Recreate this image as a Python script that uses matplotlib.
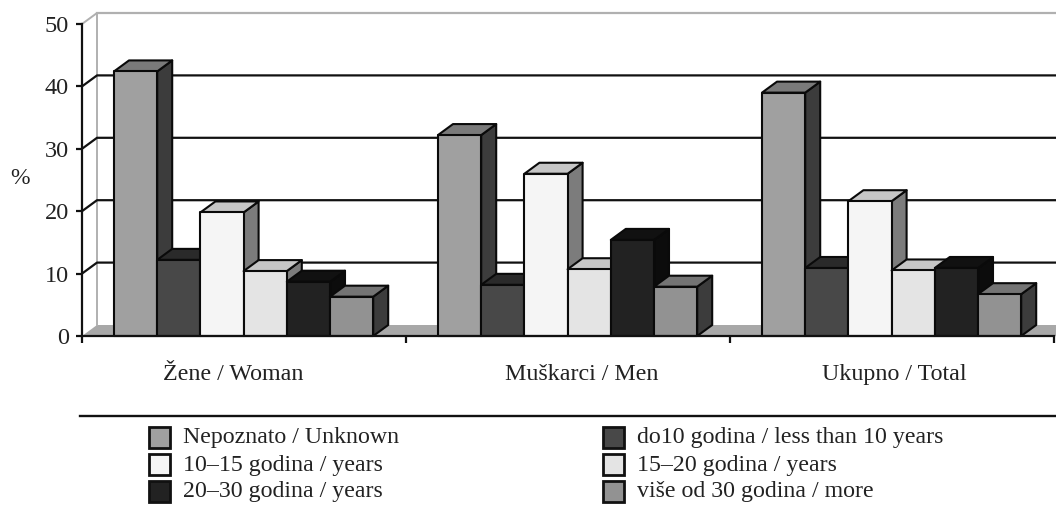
import matplotlib
matplotlib.use('Agg')
import matplotlib.pyplot as plt
from matplotlib.patches import Polygon, Rectangle

plt.rcParams['font.family'] = ['Liberation Serif', 'DejaVu Serif']

W, H = 1056, 509

categories = ['Žene / Woman', 'Muškarci / Men', 'Ukupno / Total']
series = ['Nepoznato / Unknown', 'do10 godina / less than 10 years',
          '10–15 godina / years', '15–20 godina / years',
          '20–30 godina / years', 'više od 30 godina / more']
unknown = [42.4, 32.2, 39.0]
under10 = [12.2, 8.2, 10.9]
y10_15 = [19.8, 26.0, 21.6]
y15_20 = [10.4, 10.7, 10.5]
y20_30 = [8.7, 15.4, 10.9]
over30 = [6.3, 7.9, 6.7]
values = [unknown, under10, y10_15, y15_20, y20_30, over30]
yticks = [0, 10, 20, 30, 40, 50]

front = ['#a0a0a0', '#484848', '#f5f5f5', '#e4e4e4', '#222222', '#929292']
top = ['#7a7a7a', '#2a2a2a', '#c6c6c6', '#c6c6c6', '#111111', '#747474']
side = ['#3c3c3c', '#3c3c3c', '#7c7c7c', '#7c7c7c', '#0c0c0c', '#3c3c3c']

fig = plt.figure(figsize=(W / 100, H / 100), dpi=100)
ax = fig.add_axes([82 / W, 1 - 336 / H, 972 / W, 312 / H])
ax.set_xlim(0, 3)
ax.set_ylim(0, 50)

# depth of the fake 3d, in data units
dx = 15 / 324
dy = 11 / 6.24
bar_w = 43.2 / 324
gap = 32 / 324
right = 974 / 324
edge = '#0a0a0a'

# floor and back wall
ax.add_patch(Polygon([(0, 0), (dx, dy), (right, dy), (right, 0)], closed=True,
                     fc='#a8a8a8', ec='none', clip_on=False, zorder=1))
ax.plot([0, dx, dx], [50, 50 + dy, dy], color='#b0b0b0', lw=1.4,
        clip_on=False, zorder=1, solid_joinstyle='miter')
ax.plot([dx, right], [50 + dy, 50 + dy], color='#b0b0b0', lw=1.6, clip_on=False, zorder=1)
for t in yticks[1:-1]:
    ax.plot([0, dx, right], [t, t + dy, t + dy], color='#111111', lw=1.6,
            clip_on=False, zorder=2)

# bars, left to right so each one covers the side of the previous
z = 3
for c in range(len(categories)):
    for s in range(len(series)):
        x0 = c + gap + s * bar_w
        x1 = x0 + bar_w
        v = values[s][c]
        ax.add_patch(Polygon([(x1, 0), (x1 + dx, dy), (x1 + dx, v + dy), (x1, v)], closed=True,
                             fc=side[s], ec=edge, lw=1.5, clip_on=False, zorder=z,
                             joinstyle='round'))
        ax.add_patch(Polygon([(x0, v), (x0 + dx, v + dy), (x1 + dx, v + dy), (x1, v)], closed=True,
                             fc=top[s], ec=edge, lw=1.5, clip_on=False, zorder=z,
                             joinstyle='round'))
        ax.add_patch(Rectangle((x0, 0), bar_w, v, fc=front[s], ec=edge, lw=1.5,
                               clip_on=False, zorder=z, joinstyle='round'))
        z += 1

for sp in ['top', 'right']:
    ax.spines[sp].set_visible(False)
for sp in ['left', 'bottom']:
    ax.spines[sp].set_linewidth(1.6)
    ax.spines[sp].set_color('#111111')
    ax.spines[sp].set_zorder(50)
ax.spines['bottom'].set_bounds(0, 3)

ax.set_yticks(yticks)
ax.set_yticklabels([str(t) for t in yticks], fontsize=17.5, color='#222222')
ax.tick_params(axis='y', length=4.5, width=1.6, pad=5, color='#111111')
ax.set_xticks([0, 1, 2, 3])
ax.set_xticklabels([])
ax.tick_params(axis='x', length=5, width=1.6, color='#111111')

# category labels are not centred on the groups in the original
ax.set_xticks([0.466, 1.543, 2.506], minor=True)
ax.set_xticklabels(categories, minor=True, fontsize=17.3, color='#222222')
ax.tick_params(axis='x', which='minor', length=0, pad=20)

fig.text(20 / W, 1 - 178 / H, '%', fontsize=17, color='#222222', ha='center', va='center')

# rule above legend
fig.add_artist(plt.Line2D([80 / W, 1], [1 - 416 / H, 1 - 416 / H], color='#111111', lw=1.7))

# legend, two columns, read along the rows
col_x = [149, 603]
row_y = [438, 465, 492]
for i, name in enumerate(series):
    sx = col_x[i % 2]
    sy = row_y[i // 2]
    fig.add_artist(Rectangle((sx / W, 1 - (sy + 10) / H), 21 / W, 21 / H, transform=fig.transFigure,
                             fc=front[i], ec='#111111', lw=2))
    fig.text((sx + 34) / W, 1 - sy / H, name, fontsize=17.2, color='#222222', ha='left', va='center')

fig.savefig('out.png', dpi=100)
